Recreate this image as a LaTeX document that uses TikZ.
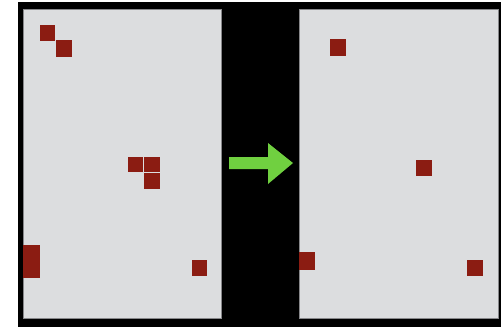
\documentclass[tikz,border=0pt]{standalone}
\usepackage{xcolor}
\definecolor{panelgrey}{RGB}{220,221,223}
\definecolor{edgegrey}{RGB}{135,135,138}
\definecolor{cellred}{RGB}{139,28,18}
\definecolor{arrowgreen}{RGB}{112,208,64}

\begin{document}
\begin{tikzpicture}[x=1pt,y=-1pt]
\tikzset{panel/.style={fill=panelgrey, draw=edgegrey, line width=0.8pt},
  cell/.style={fill=cellred}}
\useasboundingbox (0,0) rectangle (501,327);
\fill[black] (18,2) rectangle (501,327);
% before and after grids
\draw[panel] (23,9) rectangle (221,318);
\draw[panel] (299,9) rectangle (498,318);
\foreach \xa/\ya/\xb/\yb in {40/25/55/41, 56/40/72/57, 128/157/143/172,
    144/157/160/172, 144/173/160/189, 23/245/40/278, 192/260/207/276}
  \fill[cell] (\xa,\ya) rectangle (\xb,\yb);
\foreach \xa/\ya/\xb/\yb in {330/39/346/56, 416/160/432/176,
    299/252/315/270, 467/260/483/276}
  \fill[cell] (\xa,\ya) rectangle (\xb,\yb);
% step arrow
\fill[arrowgreen] (229,157) -- (268,157) -- (268,143) -- (293,163)
  -- (268,184) -- (268,169) -- (229,169) -- cycle;
\end{tikzpicture}
\end{document}
